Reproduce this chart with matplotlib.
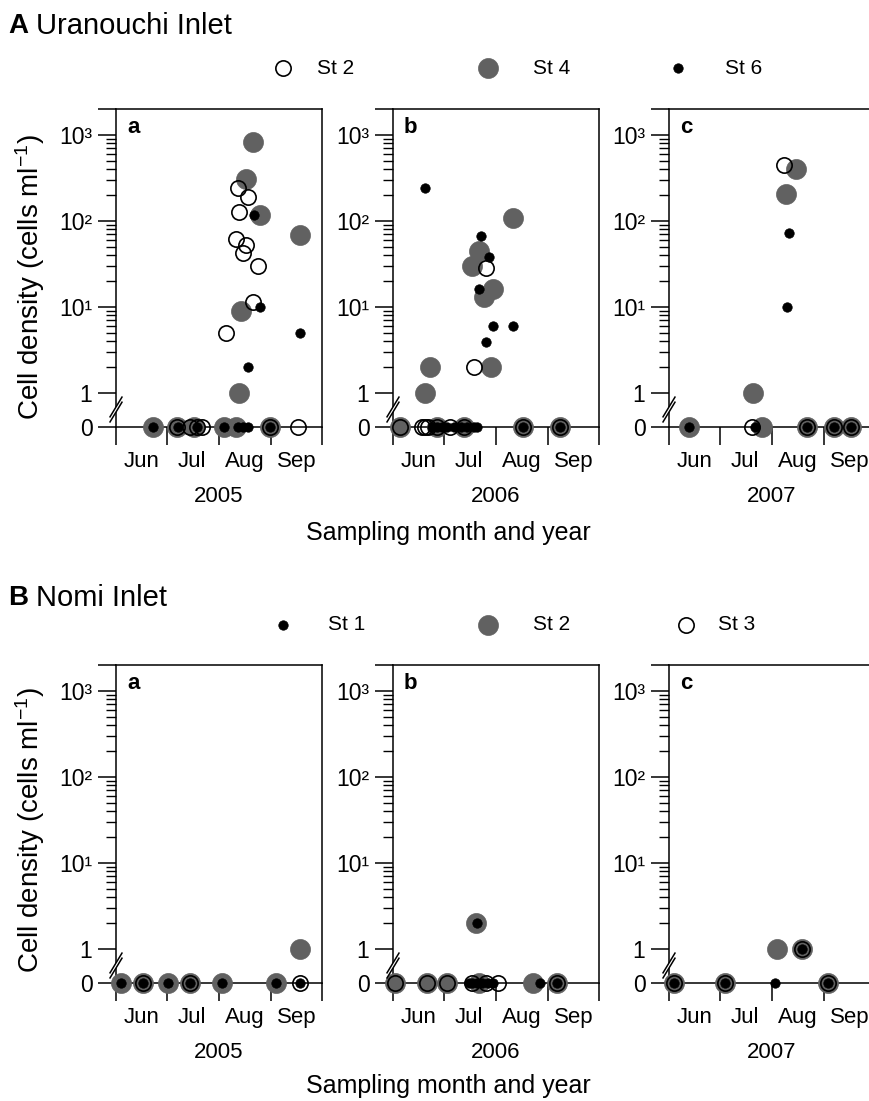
import numpy as np
import pandas as pd
import matplotlib
matplotlib.use('Agg')
import matplotlib.pyplot as plt
from matplotlib.lines import Line2D
from matplotlib.patches import Polygon
from matplotlib.ticker import FixedLocator, FixedFormatter, NullFormatter

plt.rcParams['font.family'] = ['Liberation Sans', 'DejaVu Sans']
plt.rcParams['mathtext.fontset'] = 'custom'
plt.rcParams['mathtext.rm'] = 'Liberation Sans'
plt.rcParams['mathtext.it'] = 'Liberation Sans'

# ---------------------------------------------------------------
# Data (cells/ml, 0 = not detected)
# ---------------------------------------------------------------
# A  Uranouchi Inlet
ura05_st2_dates = ['2005-08-12', '2005-08-18', '2005-08-13', '2005-08-11', '2005-08-17', '2005-08-15',
                   '2005-08-24', '2005-08-21', '2005-08-05',
                   '2005-07-07', '2005-07-15', '2005-07-19', '2005-07-22', '2005-08-31', '2005-09-17']
ura05_st2_vals = [240, 190, 127, 62, 52, 42, 30, 11.4, 5, 0, 0, 0, 0, 0, 0]
ura05_st4_dates = ['2005-08-21', '2005-08-17', '2005-08-25', '2005-08-14', '2005-08-13', '2005-09-18',
                   '2005-06-23', '2005-07-07', '2005-07-17', '2005-08-04', '2005-08-11', '2005-08-31']
ura05_st4_vals = [830, 310, 117, 9, 1, 68, 0, 0, 0, 0, 0, 0]
ura05_st6_dates = ['2005-08-22', '2005-08-25', '2005-08-18', '2005-09-18',
                   '2005-06-23', '2005-07-08', '2005-07-19', '2005-08-04', '2005-08-12', '2005-08-15',
                   '2005-08-18', '2005-08-31']
ura05_st6_vals = [117, 10, 2, 5, 0, 0, 0, 0, 0, 0, 0, 0]

ura06_st2_dates = ['2006-07-26', '2006-07-19',
                   '2006-06-05', '2006-06-18', '2006-06-20', '2006-06-22', '2006-06-27', '2006-07-05',
                   '2006-07-13', '2006-08-17', '2006-09-08']
ura06_st2_vals = [28, 2, 0, 0, 0, 0, 0, 0, 0, 0, 0]
ura06_st4_dates = ['2006-06-20', '2006-06-23', '2006-07-22', '2006-07-18', '2006-07-30', '2006-07-25',
                   '2006-07-29', '2006-08-11',
                   '2006-06-05', '2006-06-27', '2006-07-13', '2006-08-17', '2006-09-08']
ura06_st4_vals = [1, 2, 44, 30, 16, 13, 2, 107, 0, 0, 0, 0, 0]
ura06_st6_dates = ['2006-06-20', '2006-07-23', '2006-07-28', '2006-07-22', '2006-07-30', '2006-07-26',
                   '2006-08-11',
                   '2006-06-24', '2006-06-27', '2006-06-30', '2006-07-03', '2006-07-07', '2006-07-11',
                   '2006-07-15', '2006-07-19', '2006-07-21', '2006-08-17', '2006-09-08']
ura06_st6_vals = [240, 66, 38, 16, 6, 3.9, 6, 0, 0, 0, 0, 0, 0, 0, 0, 0, 0, 0]

ura07_st2_dates = ['2007-08-08', '2007-07-20', '2007-08-22', '2007-09-07', '2007-09-17']
ura07_st2_vals = [445, 0, 0, 0, 0]
ura07_st4_dates = ['2007-08-15', '2007-08-09', '2007-07-21',
                   '2007-06-13', '2007-07-26', '2007-08-22', '2007-09-07', '2007-09-17']
ura07_st4_vals = [405, 203, 1, 0, 0, 0, 0, 0]
ura07_st6_dates = ['2007-08-11', '2007-08-10',
                   '2007-06-13', '2007-07-22', '2007-08-22', '2007-09-07', '2007-09-17']
ura07_st6_vals = [72, 9.8, 0, 0, 0, 0, 0]

# B  Nomi Inlet
nomi05_st1_dates = ['2005-06-04', '2005-06-17', '2005-07-02', '2005-07-15', '2005-08-03', '2005-09-04', '2005-09-18']
nomi05_st1_vals = [0, 0, 0, 0, 0, 0, 0]
nomi05_st2_dates = ['2005-06-04', '2005-06-17', '2005-07-02', '2005-07-15', '2005-08-03', '2005-09-04', '2005-09-18']
nomi05_st2_vals = [0, 0, 0, 0, 0, 0, 1]
nomi05_st3_dates = ['2005-06-17', '2005-07-15', '2005-09-18']
nomi05_st3_vals = [0, 0, 0]

nomi06_st1_dates = ['2006-07-21', '2006-07-16', '2006-07-18', '2006-07-21', '2006-07-24', '2006-07-27',
                    '2006-07-30', '2006-08-27', '2006-09-06']
nomi06_st1_vals = [2, 0, 0, 0, 0, 0, 0, 0, 0]
nomi06_st2_dates = ['2006-07-20', '2006-06-02', '2006-06-21', '2006-07-03', '2006-07-22', '2006-08-23', '2006-09-06']
nomi06_st2_vals = [2, 0, 0, 0, 0, 0, 0]
nomi06_st3_dates = ['2006-06-02', '2006-06-21', '2006-07-03', '2006-07-18', '2006-07-26', '2006-08-02', '2006-09-06']
nomi06_st3_vals = [0, 0, 0, 0, 0, 0, 0]

nomi07_st1_dates = ['2007-06-04', '2007-07-04', '2007-08-03', '2007-08-19', '2007-09-03']
nomi07_st1_vals = [0, 0, 0, 1, 0]
nomi07_st2_dates = ['2007-06-04', '2007-07-04', '2007-08-04', '2007-08-19', '2007-09-03']
nomi07_st2_vals = [0, 0, 1, 1, 0]
nomi07_st3_dates = ['2007-06-04', '2007-07-04', '2007-08-19', '2007-09-03']
nomi07_st3_vals = [0, 0, 1, 0]

years = [2005, 2006, 2007]
month_labels = ['Jun', 'Jul', 'Aug', 'Sep']
panel_letters = ['a', 'b', 'c']

# ---------------------------------------------------------------
# styles
# ---------------------------------------------------------------
GREY = dict(marker='o', ms=14.4, mfc='#616161', mec='#616161', mew=0.5, ls='none', zorder=3, clip_on=False)
OPEN = dict(marker='o', ms=11.0, mfc='none', mec='black', mew=1.2, ls='none', zorder=4, clip_on=False)
DOT = dict(marker='o', ms=6.8, mfc='black', mec='black', mew=0.5, ls='none', zorder=5, clip_on=False)

GAP = 0.4   # decades between "0" and "1" on the broken axis


def fwd(v):
    v = np.asarray(v, dtype=float)
    with np.errstate(divide='ignore', invalid='ignore'):
        return np.where(v >= 1, np.log10(np.maximum(v, 1)), GAP * (v - 1))


def inv(y):
    y = np.asarray(y, dtype=float)
    with np.errstate(over='ignore'):
        return np.where(y >= 0, 10.0 ** np.minimum(y, 300), 1 + y / GAP)


W, H = 869, 1101
fig = plt.figure(figsize=(W / 100, H / 100), dpi=100)

lefts = [116, 393, 669]
pw, ph = 206, 318


def make_axes(left, bottom_px, year, letter):
    ax = fig.add_axes([left / W, 1 - bottom_px / H, pw / W, ph / H])
    ax.set_yscale('function', functions=(fwd, inv))
    ax.set_ylim(0, 2000)
    ax.yaxis.set_major_locator(FixedLocator([0, 1, 10, 100, 1000, 2000]))
    ax.yaxis.set_major_formatter(FixedFormatter(['0', '1', '10\u00b9', '10\u00b2', '10\u00b3', '']))
    ax.yaxis.set_minor_locator(FixedLocator([m * 10 ** k for k in range(3) for m in range(2, 10)]))
    ax.yaxis.set_minor_formatter(NullFormatter())

    starts = pd.to_datetime([f'{year}-{m:02d}-01' for m in range(6, 11)])
    mids = pd.to_datetime([f'{year}-{m:02d}-16' for m in range(6, 10)])
    ax.set_xlim(starts[0], starts[-1])
    ax.set_xticks(starts)
    ax.set_xticklabels([''] * len(starts))
    ax.set_xticks(mids, minor=True)
    ax.set_xticklabels(month_labels, minor=True)

    ax.tick_params(axis='x', which='major', direction='out', length=13, width=1.1)
    ax.tick_params(axis='x', which='minor', length=0, pad=17, labelsize=16)
    ax.tick_params(axis='y', which='major', direction='out', length=13, width=1.1, pad=4, labelsize=16.5)
    ax.tick_params(axis='y', which='minor', direction='out', length=7, width=1.0)
    for s in ax.spines.values():
        s.set_linewidth(1.1)

    ax.text(0.083, 0.943, letter, transform=ax.transAxes, ha='center', va='center',
            fontsize=16, fontweight='bold')

    # axis break marks between 0 and 1
    y0, dx, dy, g = 0.047, 0.029, 0.031, 0.016
    ax.add_patch(Polygon([(-dx, y0 - dy), (dx, y0 + dy), (dx, y0 + dy + g), (-dx, y0 - dy + g)],
                         closed=True, transform=ax.transAxes, facecolor='white', edgecolor='none',
                         clip_on=False, zorder=6))
    for off in (0, g):
        ax.plot([-dx, dx], [y0 - dy + off, y0 + dy + off], transform=ax.transAxes,
                color='black', lw=1.1, clip_on=False, zorder=7)

    fig.text((left + pw / 2) / W, 1 - (bottom_px + 70) / H, str(year),
             ha='center', va='center', fontsize=16)
    return ax


ura = [(ura05_st2_dates, ura05_st2_vals, ura05_st4_dates, ura05_st4_vals, ura05_st6_dates, ura05_st6_vals),
       (ura06_st2_dates, ura06_st2_vals, ura06_st4_dates, ura06_st4_vals, ura06_st6_dates, ura06_st6_vals),
       (ura07_st2_dates, ura07_st2_vals, ura07_st4_dates, ura07_st4_vals, ura07_st6_dates, ura07_st6_vals)]

nomi = [(nomi05_st1_dates, nomi05_st1_vals, nomi05_st2_dates, nomi05_st2_vals, nomi05_st3_dates, nomi05_st3_vals),
        (nomi06_st1_dates, nomi06_st1_vals, nomi06_st2_dates, nomi06_st2_vals, nomi06_st3_dates, nomi06_st3_vals),
        (nomi07_st1_dates, nomi07_st1_vals, nomi07_st2_dates, nomi07_st2_vals, nomi07_st3_dates, nomi07_st3_vals)]

# --- A  Uranouchi Inlet ---
for i, (d2, v2, d4, v4, d6, v6) in enumerate(ura):
    ax = make_axes(lefts[i], 427, years[i], panel_letters[i])
    ax.plot(pd.to_datetime(d4), v4, **GREY)
    ax.plot(pd.to_datetime(d2), v2, **OPEN)
    ax.plot(pd.to_datetime(d6), v6, **DOT)

# --- B  Nomi Inlet ---
for i, (d1, v1, d2, v2, d3, v3) in enumerate(nomi):
    ax = make_axes(lefts[i], 983, years[i], panel_letters[i])
    ax.plot(pd.to_datetime(d2), v2, **GREY)
    ax.plot(pd.to_datetime(d3), v3, **OPEN)
    ax.plot(pd.to_datetime(d1), v1, **DOT)

# titles, legends, labels
for ytxt, letter, lab in [(26, 'A', 'Uranouchi Inlet'), (598, 'B', 'Nomi Inlet')]:
    fig.text(8 / W, 1 - ytxt / H, letter, ha='left', va='center', fontsize=20, fontweight='bold')
    fig.text(36 / W, 1 - ytxt / H, lab, ha='left', va='center', fontsize=21)


def legend_item(xm, xt, y, style, label):
    st = {k: v for k, v in style.items() if k not in ('ls', 'zorder', 'clip_on')}
    fig.add_artist(Line2D([xm / W], [1 - y / H], transform=fig.transFigure, ls='none', **st))
    fig.text(xt / W, 1 - y / H, label, ha='left', va='center', fontsize=15)


legend_item(283, 317, 68, OPEN, 'St 2')
legend_item(488, 533, 68, GREY, 'St 4')
legend_item(678, 725, 68, DOT, 'St 6')
legend_item(283, 328, 625, DOT, 'St 1')
legend_item(488, 533, 625, GREY, 'St 2')
legend_item(686, 718, 625, OPEN, 'St 3')

for yc in (277, 830):
    fig.text(30 / W, 1 - yc / H, 'Cell density (cells ml$^{-1}$)', rotation=90,
             ha='center', va='center', fontsize=20)
for yc in (533, 1086):
    fig.text(448 / W, 1 - yc / H, 'Sampling month and year', ha='center', va='center', fontsize=18)

fig.savefig('out.png', dpi=100, facecolor='white')
